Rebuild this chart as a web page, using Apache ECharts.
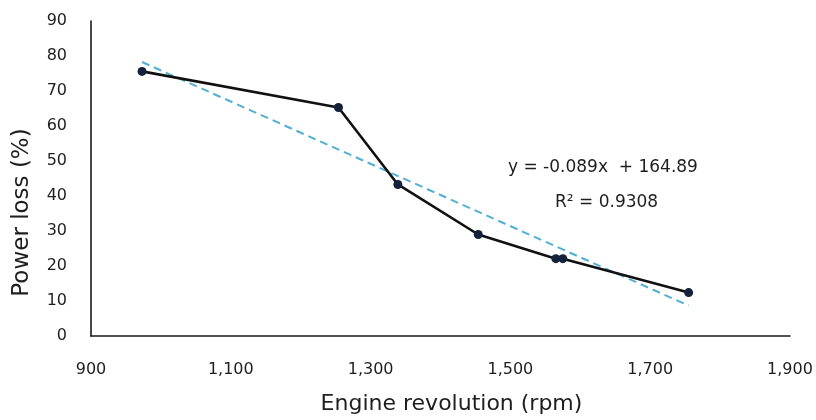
<!DOCTYPE html>
<html>
<head>
<meta charset="utf-8">
<script src="https://cdn.jsdelivr.net/npm/echarts@6/dist/echarts.min.js"></script>
<style>
  html, body { margin: 0; padding: 0; background: #fff; }
  #chart { width: 816px; height: 420px; }
</style>
</head>
<body>
<div id="chart"></div>
<script>
// Engine speed (rpm) and measured power loss (%)
const engineRpm = [973, 1254, 1339, 1454, 1565, 1575, 1755];
const powerLoss = [75.6, 65.3, 43.3, 29.0, 22.1, 22.1, 12.4];

// Linear fit as reported on the chart
const fitSlope = -0.089;
const fitIntercept = 164.89;
const fitR2 = 0.9308;

const xTicks = { min: 900, max: 1900, step: 200 };
const yTicks = { min: 0, max: 90, step: 10 };

const xLo = Math.min(...engineRpm);
const xHi = Math.max(...engineRpm);
const trend = [xLo, xHi].map(x => [x, fitSlope * x + fitIntercept]);

const font = 'DejaVu Sans';
const ink = '#1e1e1e';
const chart = echarts.init(document.getElementById('chart'));
chart.setOption({
  animation: false,
  backgroundColor: '#ffffff',
  grid: { left: 91, right: 26, top: 21, bottom: 83 },
  xAxis: {
    type: 'value',
    min: xTicks.min, max: xTicks.max, interval: xTicks.step,
    name: 'Engine revolution (rpm)',
    nameLocation: 'middle', nameGap: 57,
    nameTextStyle: { fontFamily: font, fontSize: 22, color: ink, padding: [0, 0, 0, 22] },
    axisLine: { show: true, lineStyle: { color: '#1a1a1a', width: 1.6 } },
    axisTick: { show: false },
    splitLine: { show: false },
    axisLabel: {
      margin: 26, fontFamily: font, fontSize: 16, color: ink,
      formatter: v => v.toLocaleString('en-US')
    }
  },
  yAxis: {
    type: 'value',
    min: yTicks.min, max: yTicks.max, interval: yTicks.step,
    name: 'Power loss (%)',
    nameLocation: 'middle', nameGap: 57,
    nameTextStyle: { fontFamily: font, fontSize: 23, color: ink, padding: [0, 68, 0, 0] },
    axisLine: { show: true, lineStyle: { color: '#1a1a1a', width: 1.6 } },
    axisTick: { show: false },
    splitLine: { show: false },
    axisLabel: {
      margin: 24, fontFamily: font, fontSize: 16, color: ink,
      verticalAlign: 'middle', lineHeight: 16, padding: [0, 0, 7, 0]
    }
  },
  series: [
    {
      name: 'Linear fit',
      type: 'line',
      data: trend,
      symbol: 'none',
      lineStyle: { color: '#52afd4', width: 2, type: [8, 5] },
      z: 2
    },
    {
      name: 'Power loss',
      type: 'line',
      data: engineRpm.map((x, i) => [x, powerLoss[i]]),
      symbol: 'circle', symbolSize: 9,
      itemStyle: { color: '#14213a' },
      lineStyle: { color: '#111', width: 2.6 },
      z: 3
    }
  ],
  graphic: [
    {
      type: 'text', left: 508, top: 159,
      style: {
        text: 'y = -0.089x  + 164.89',
        fontFamily: font, fontSize: 17, fill: ink
      }
    },
    {
      type: 'text', left: 555, top: 194,
      style: {
        text: 'R² = ' + fitR2,
        fontFamily: font, fontSize: 17, fill: ink
      }
    }
  ]
});
</script>
</body>
</html>
